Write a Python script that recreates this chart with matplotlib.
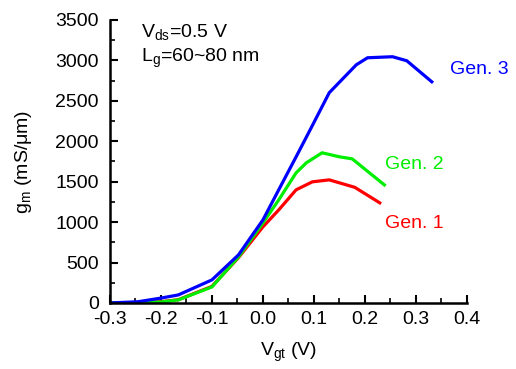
import matplotlib
matplotlib.use("Agg")
import matplotlib.pyplot as plt
from matplotlib.ticker import MultipleLocator

plt.rcParams['font.family'] = ['Liberation Sans', 'DejaVu Sans']
plt.rcParams['mathtext.fontset'] = 'custom'
plt.rcParams['mathtext.rm'] = 'Liberation Sans'
plt.rcParams['mathtext.it'] = 'Liberation Sans'

# Gen. 1 (red)
vgt_gen1 = [-0.30, -0.25, -0.20, -0.166, -0.10, -0.048, 0.0, 0.031, 0.065, 0.097, 0.130, 0.18, 0.229]
gm_gen1 = [0, 5, 15, 40, 205, 560, 941, 1151, 1399, 1498, 1522, 1430, 1238]
# Gen. 2 (green)
vgt_gen2 = [-0.30, -0.25, -0.20, -0.166, -0.10, -0.048, 0.0, 0.031, 0.065, 0.085, 0.116, 0.150, 0.175, 0.238]
gm_gen2 = [0, 5, 12, 37, 198, 569, 990, 1275, 1609, 1733, 1857, 1807, 1782, 1460]
# Gen. 3 (blue)
vgt_gen3 = [-0.30, -0.245, -0.20, -0.166, -0.10, -0.048, 0.0, 0.031, 0.065, 0.090, 0.130, 0.183, 0.205, 0.254, 0.282, 0.331]
gm_gen3 = [0, 15, 60, 99, 285, 594, 1027, 1400, 1807, 2110, 2600, 2945, 3032, 3045, 2995, 2735]

fig = plt.figure(figsize=(5.16, 3.69), dpi=100)
ax = fig.add_axes([0.213, 0.179, 0.692, 0.767])

ax.plot(vgt_gen1, gm_gen1, color='#ff0000', lw=2.3)
ax.plot(vgt_gen2, gm_gen2, color='#00ee00', lw=2.3)
ax.plot(vgt_gen3, gm_gen3, color='#0000ff', lw=2.3)

ax.set_xlim(-0.3, 0.4)
ax.set_ylim(0, 3500)
ax.xaxis.set_major_locator(MultipleLocator(0.1))
ax.xaxis.set_minor_locator(MultipleLocator(0.05))
ax.yaxis.set_major_locator(MultipleLocator(500))
ax.yaxis.set_minor_locator(MultipleLocator(250))
ax.xaxis.set_major_formatter(plt.FuncFormatter(lambda v, _: f'{v:.1f}'))

for side in ('top', 'right'):
    ax.spines[side].set_visible(False)
for side in ('left', 'bottom'):
    ax.spines[side].set_linewidth(1.8)
ax.tick_params(which='major', direction='in', length=6, width=1.5, labelsize=14)
ax.tick_params(axis='y', which='major', pad=8)
ax.tick_params(axis='x', which='major', pad=6)
ax.tick_params(which='minor', direction='in', length=3.5, width=1.2)

ax.set_xlabel(r'V$_{\mathrm{gt}}$ (V)', fontsize=14, labelpad=9)
ax.set_ylabel(r'g$_{\mathrm{m}}$ (mS/$\mu$m)', fontsize=14, labelpad=15)

ax.text(0.087, 0.94, r'V$_{\mathrm{ds}}$=0.5 V', transform=ax.transAxes,
        fontsize=14, va='baseline', ha='left')
ax.text(0.087, 0.853, r'L$_{\mathrm{g}}$=60~80 nm', transform=ax.transAxes,
        fontsize=14, va='baseline', ha='left')

ax.text(0.367, 2885, 'Gen. 3', color='#0000ff', fontsize=14, va='center', clip_on=False)
ax.text(0.240, 1708, 'Gen. 2', color='#00ee00', fontsize=14, va='center', clip_on=False)
ax.text(0.240, 978, 'Gen. 1', color='#ff0000', fontsize=14, va='center', clip_on=False)

fig.savefig('out.png', dpi=100)
